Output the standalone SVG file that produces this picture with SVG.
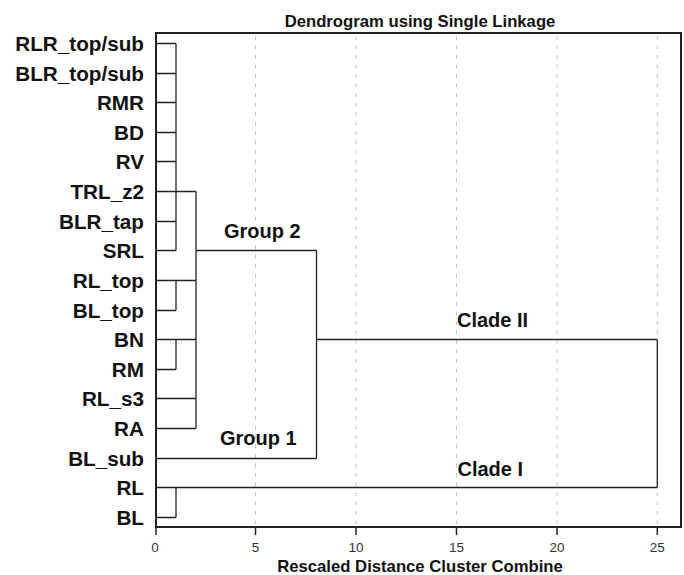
<svg xmlns="http://www.w3.org/2000/svg" width="684" height="575" viewBox="0 0 684 575">
<style>
.lbl{font-family:"Liberation Sans",Arial,sans-serif;font-weight:bold;font-size:20px;fill:#111;}
.leaf{text-anchor:end;font-size:20.7px;}
.title{font-family:"Liberation Sans",Arial,sans-serif;font-weight:bold;font-size:16.7px;fill:#111;text-anchor:middle;}
.tick{font-family:"Liberation Sans",Arial,sans-serif;font-size:13.5px;fill:#333;text-anchor:middle;}
.grid{stroke:#c4c4c4;stroke-width:1;stroke-dasharray:4 5.5;fill:none;}
.ln{stroke:#222;stroke-width:1.3;fill:none;}
.frame{stroke:#222;stroke-width:2;fill:none;}
</style>
<rect width="684" height="575" fill="#fff"/>
<g id="grid">
<line class="grid" x1="255.5" y1="36" x2="255.5" y2="526"/>
<line class="grid" x1="356" y1="36" x2="356" y2="526"/>
<line class="grid" x1="456.5" y1="36" x2="456.5" y2="526"/>
<line class="grid" x1="557" y1="36" x2="557" y2="526"/>
<line class="grid" x1="657.3" y1="36" x2="657.3" y2="526"/>
</g>
<text class="title" x="420" y="26.5">Dendrogram using Single Linkage</text>
<g id="axis">
<rect class="frame" x="156" y="33" width="525" height="494"/>
<g stroke="#222" stroke-width="1.5">
<line x1="156" y1="527" x2="156" y2="535"/>
<line x1="255.5" y1="527" x2="255.5" y2="535"/>
<line x1="356" y1="527" x2="356" y2="535"/>
<line x1="456.5" y1="527" x2="456.5" y2="535"/>
<line x1="557" y1="527" x2="557" y2="535"/>
<line x1="657.3" y1="527" x2="657.3" y2="535"/>
</g>
<text class="tick" x="155" y="552">0</text>
<text class="tick" x="255.5" y="552">5</text>
<text class="tick" x="356" y="552">10</text>
<text class="tick" x="456.5" y="552">15</text>
<text class="tick" x="557" y="552">20</text>
<text class="tick" x="657.3" y="552">25</text>
<text class="title" x="420" y="572">Rescaled Distance Cluster Combine</text>
</g>
<g id="leaf-RLR_top_sub"><text class="lbl leaf" x="144" y="50.5">RLR_top/sub</text></g>
<g id="leaf-BLR_top_sub"><text class="lbl leaf" x="144" y="80.5">BLR_top/sub</text></g>
<g id="leaf-RMR"><text class="lbl leaf" x="144" y="109.5">RMR</text></g>
<g id="leaf-BD"><text class="lbl leaf" x="144" y="139.5">BD</text></g>
<g id="leaf-RV"><text class="lbl leaf" x="144" y="168.5">RV</text></g>
<g id="leaf-TRL_z2"><text class="lbl leaf" x="144" y="198.5">TRL_z2</text></g>
<g id="leaf-BLR_tap"><text class="lbl leaf" x="144" y="228.5">BLR_tap</text></g>
<g id="leaf-SRL"><text class="lbl leaf" x="144" y="257.5">SRL</text></g>
<g id="leaf-RL_top"><text class="lbl leaf" x="144" y="287.5">RL_top</text></g>
<g id="leaf-BL_top"><text class="lbl leaf" x="144" y="317.5">BL_top</text></g>
<g id="leaf-BN"><text class="lbl leaf" x="144" y="346.5">BN</text></g>
<g id="leaf-RM"><text class="lbl leaf" x="144" y="376.5">RM</text></g>
<g id="leaf-RL_s3"><text class="lbl leaf" x="144" y="405.5">RL_s3</text></g>
<g id="leaf-RA"><text class="lbl leaf" x="144" y="435.5">RA</text></g>
<g id="leaf-BL_sub"><text class="lbl leaf" x="144" y="465.5">BL_sub</text></g>
<g id="leaf-RL"><text class="lbl leaf" x="144" y="494.5">RL</text></g>
<g id="leaf-BL"><text class="lbl leaf" x="144" y="524.5">BL</text></g>
<g id="cluster-labels">
<text class="lbl" x="224" y="238">Group 2</text>
<text class="lbl" x="220" y="445">Group 1</text>
<text class="lbl" x="457" y="327">Clade II</text>
<text class="lbl" x="457.5" y="476">Clade I</text>
</g>
<g id="connectors" class="ln">
<path d="M157 43.5H176M157 73.5H176M157 102.5H176M157 132.5H176M157 161.5H176M157 191.5H196M157 221.5H176M157 250.5H176M176 43.5V250.5"/>
<path d="M157 280.5H196M157 310.5H176M176 280.5V310.5"/>
<path d="M157 339.5H196M157 369.5H176M176 339.5V369.5"/>
<path d="M157 398.5H196M157 428.5H196"/>
<path d="M196 191.5V428.5M196 250.5H316.5"/>
<path d="M157 458.5H316.5M316.5 250.5V458.5M316.5 339.5H657.3"/>
<path d="M157 487.5H657.3M157 517.5H176M176 487.5V517.5"/>
<path d="M657.3 339.5V487.5"/>
</g>
</svg>
